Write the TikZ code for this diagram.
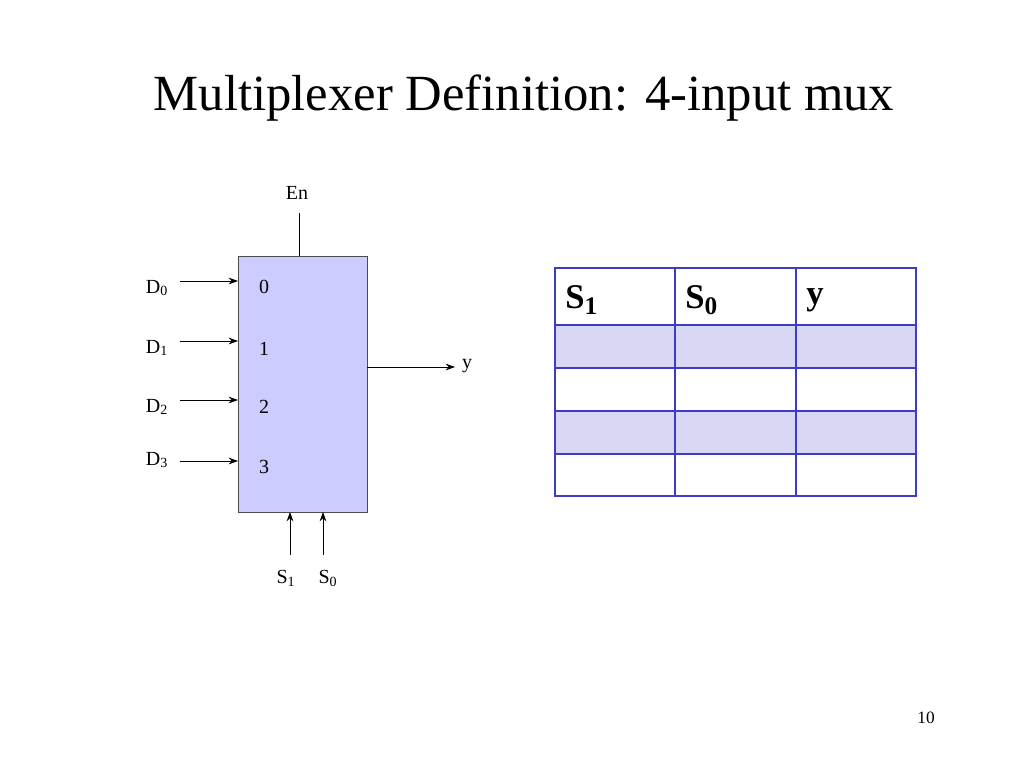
\documentclass[tikz,border=0pt]{standalone}
\usepackage{fontspec}
\setmainfont{Liberation Serif}
\usetikzlibrary{arrows.meta}
\begin{document}
\begin{tikzpicture}[x=0.75pt,y=-0.75pt,
  lbl/.style={font=\fontsize{15}{17}\selectfont,inner sep=0pt},
  hdr/.style={font=\fontsize{26}{28}\selectfont\bfseries,inner sep=0pt,anchor=west},
  arr/.style={-{Stealth[length=7pt,width=5pt]},line width=0.6pt}]
\useasboundingbox (0,0) rectangle (1024,768);
\node[inner sep=0pt,font=\fontsize{38}{40}\selectfont] (title) at (524,98) {Multiplexer Definition: 4-input mux};
\node[draw=black!70,fill={rgb,255:red,204;green,204;blue,255},minimum width=129*0.75pt,minimum height=256*0.75pt,anchor=north west,inner sep=0pt] (mux) at (238,256) {};
\foreach \i/\y/\ly/\ny in {0/281/288/287,1/341/348/349,2/400/407/407,3/461/460/467}{
  \node[lbl] (d\i) at (157,\ly) {D\textsubscript{\i}};
  \coordinate (s\i) at (180,\y);
  \coordinate (e\i) at (238,\y);
  \draw[arr] (s\i) -- (e\i);
  \node[lbl] (n\i) at (264,\ny) {\i};
}
\node[lbl] (en) at (297,193) {En};
\coordinate (enb) at (299,213);
\coordinate (ent) at (299,256);
\draw[line width=0.6pt] (enb) -- (ent);
\coordinate (o1) at (367,367);
\node[lbl] (y) at (467,366) {y};
\draw[arr] (o1) -- (455,367);
\coordinate (a1) at (290,555); \coordinate (b1) at (290,512);
\coordinate (a0) at (323,555); \coordinate (b0) at (323,512);
\draw[arr] (a1) -- (b1);
\draw[arr] (a0) -- (b0);
\node[lbl] (sl1) at (286,578) {S\textsubscript{1}};
\node[lbl] (sl0) at (328,578) {S\textsubscript{0}};
% table
\definecolor{tb}{RGB}{60,60,200}
\definecolor{sh}{RGB}{216,216,245}
\fill[sh] (555,325) rectangle (916,368);
\fill[sh] (555,411) rectangle (916,454);
\draw[tb,line width=1pt] (555,268) rectangle (916,496);
\foreach \x in {675,796} \draw[tb,line width=1pt] (\x,268) -- (\x,496);
\foreach \y in {368,411,454} \draw[tb,line width=1pt] (555,\y) -- (916,\y);
\draw[tb,line width=2pt] (555,325) -- (916,325);
\node[hdr] (h1) at (565,300) {S\raisebox{-0.35ex}{\fontsize{19}{20}\selectfont 1}};
\node[hdr] (h2) at (685,300) {S\raisebox{-0.35ex}{\fontsize{19}{20}\selectfont 0}};
\node[hdr] (h3) at (806,300) {y};
\node[inner sep=0pt,font=\fontsize{13}{15}\selectfont] (pg) at (926,718) {10};
\end{tikzpicture}
\end{document}
